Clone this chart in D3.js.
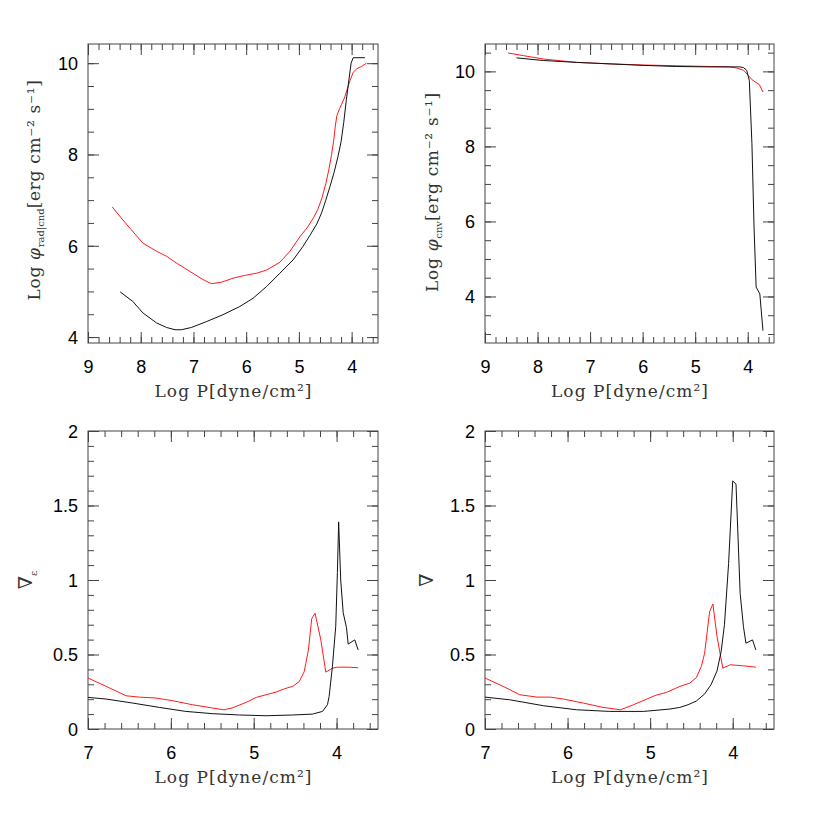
<!DOCTYPE html>
<html>
<head>
<meta charset="utf-8">
<script src="https://cdn.jsdelivr.net/npm/d3@7"></script>
<style>
  body { margin: 0; background: #ffffff; }
</style>
</head>
<body>
<div id="chart"></div>
<script>
// values, pairs are [log P, value]
const radBlack = [[8.39,4.99],[8.15,4.78],[7.96,4.53],[7.70,4.31],[7.51,4.21],[7.35,4.16],[7.23,4.16],[7.04,4.21],[6.75,4.34],[6.44,4.49],[6.12,4.67],[5.87,4.85],[5.61,5.11],[5.36,5.40],[5.11,5.69],[4.92,5.99],[4.79,6.23],[4.66,6.48],[4.57,6.72],[4.49,7.00],[4.41,7.30],[4.33,7.62],[4.26,7.95],[4.20,8.28],[4.15,8.70],[4.10,9.20],[4.05,9.65],[4.01,10.0],[3.97,10.12],[3.75,10.12]]
const radRed = [[8.54,6.85],[8.37,6.61],[8.18,6.35],[7.96,6.06],[7.70,5.88],[7.51,5.77],[7.32,5.62],[7.07,5.44],[6.82,5.26],[6.66,5.17],[6.47,5.20],[6.25,5.29],[6.03,5.35],[5.80,5.40],[5.61,5.47],[5.36,5.64],[5.17,5.88],[4.98,6.20],[4.84,6.40],[4.72,6.62],[4.64,6.80],[4.56,7.06],[4.49,7.36],[4.43,7.68],[4.38,8.00],[4.34,8.31],[4.31,8.62],[4.28,8.85],[4.23,9.00],[4.19,9.10],[4.13,9.26],[4.07,9.48],[4.03,9.62],[3.97,9.80],[3.90,9.88],[3.81,9.93],[3.72,10.0]]

const cnvBlack = [[8.40,10.36],[7.89,10.29],[7.26,10.24],[6.62,10.20],[5.99,10.16],[5.35,10.13],[4.72,10.12],[4.15,10.12],[4.08,10.10],[4.02,10.03],[3.97,9.76],[3.92,8.07],[3.88,5.85],[3.84,4.25],[3.77,4.07],[3.71,3.09]]
const cnvRed = [[8.56,10.49],[8.27,10.42],[7.89,10.33],[7.26,10.24],[6.62,10.20],[5.99,10.17],[5.35,10.15],[4.72,10.13],[4.34,10.12],[4.21,10.09],[4.08,10.03],[3.99,9.89],[3.92,9.78],[3.86,9.72],[3.78,9.65],[3.71,9.45]]

const gradEBlack = [[7.0,0.212],[6.78,0.201],[6.46,0.174],[6.14,0.145],[5.82,0.118],[5.50,0.103],[5.17,0.094],[4.85,0.089],[4.53,0.094],[4.29,0.10],[4.17,0.118],[4.11,0.163],[4.09,0.218],[4.05,0.42],[4.01,0.69],[3.99,1.05],[3.975,1.39],[3.95,1.0],[3.92,0.78],[3.88,0.68],[3.86,0.57],[3.78,0.598],[3.74,0.531]]
const gradERed = [[7.0,0.342],[6.78,0.286],[6.54,0.223],[6.38,0.214],[6.18,0.208],[5.98,0.19],[5.74,0.163],[5.50,0.141],[5.36,0.129],[5.26,0.141],[5.09,0.179],[4.97,0.212],[4.85,0.23],[4.73,0.248],[4.63,0.27],[4.53,0.286],[4.45,0.319],[4.39,0.386],[4.34,0.53],[4.30,0.74],[4.26,0.777],[4.19,0.598],[4.13,0.382],[4.05,0.408],[3.99,0.415],[3.85,0.415],[3.74,0.411]]

const gradBlack = [[7.0,0.214],[6.70,0.196],[6.29,0.156],[5.89,0.129],[5.49,0.118],[5.08,0.118],[4.76,0.134],[4.64,0.145],[4.54,0.163],[4.44,0.188],[4.34,0.235],[4.26,0.300],[4.19,0.39],[4.14,0.52],[4.10,0.70],[4.05,1.11],[4.00,1.665],[3.96,1.643],[3.91,0.91],[3.87,0.687],[3.84,0.576],[3.76,0.598],[3.72,0.531]]
const gradRed = [[7.0,0.342],[6.78,0.286],[6.58,0.23],[6.37,0.214],[6.21,0.214],[6.05,0.201],[5.81,0.174],[5.57,0.145],[5.36,0.129],[5.20,0.163],[5.04,0.201],[4.94,0.225],[4.80,0.246],[4.64,0.286],[4.52,0.308],[4.44,0.345],[4.38,0.42],[4.34,0.509],[4.28,0.788],[4.24,0.839],[4.19,0.62],[4.12,0.408],[4.03,0.431],[3.87,0.424],[3.72,0.415]]

const topXTicks = [9, 8, 7, 6, 5, 4]
const botXTicks = [7, 6, 5, 4]
const fluxYTicks = [4, 6, 8, 10]
const gradYTicks = [0, 0.5, 1, 1.5, 2]

const w = 817, h = 817
const serif = '"DejaVu Serif", serif'
const sans = '"Liberation Sans", Arial, sans-serif'
const frameCol = '#444'

const panels = [
    { l: 88, r: 378, t: 44, b: 343, xDom: [9, 3.5], yDom: [3.87, 10.42], xt: topXTicks, yt: fluxYTicks, xm: 0.2, ym: 0.5,
      series: [radRed, radBlack], title: 'rad', tx: 40, ty: 190 },
    { l: 485, r: 774, t: 44, b: 343, xDom: [9, 3.5], yDom: [2.76, 10.73], xt: topXTicks, yt: fluxYTicks, xm: 0.2, ym: 0.5,
      series: [cnvRed, cnvBlack], title: 'cnv', tx: 438, ty: 192 },
    { l: 88, r: 378, t: 431, b: 729, xDom: [7, 3.5], yDom: [0, 2], xt: botXTicks, yt: gradYTicks, xm: 0.2, ym: 0.1,
      series: [gradERed, gradEBlack], title: 'grade', tx: 32, ty: 580 },
    { l: 485, r: 774, t: 431, b: 729, xDom: [7, 3.5], yDom: [0, 2], xt: botXTicks, yt: gradYTicks, xm: 0.2, ym: 0.1,
      series: [gradRed, gradBlack], title: 'grad', tx: 433, ty: 580 }
]

const svg = d3.select('#chart')
    .append('svg')
    .attr('width', w)
    .attr('height', h)
    .style('background-color', '#ffffff')

function minorTicks(dom, step) {
    const lo = Math.min(dom[0], dom[1]), hi = Math.max(dom[0], dom[1])
    const out = []
    for (let v = Math.ceil(lo / step - 1e-6) * step; v <= hi + 1e-6; v += step) out.push(+v.toFixed(3))
    return out
}

function styleAxis(g) {
    g.select('.domain').remove()
    g.selectAll('line').attr('stroke', frameCol)
}

panels.forEach(p => {
    const x = d3.scaleLinear().domain(p.xDom).range([p.l, p.r])
    const y = d3.scaleLinear().domain(p.yDom).range([p.b, p.t])
    const pw = p.r - p.l, ph = p.b - p.t
    const g = svg.append('g')

    // minor ticks on all four sides
    const xMin = minorTicks(p.xDom, p.xm), yMin = minorTicks(p.yDom, p.ym)
    g.append('g').attr('transform', `translate(0,${p.b})`)
        .call(d3.axisBottom(x).tickValues(xMin).tickSize(-6).tickFormat('')).call(styleAxis)
    g.append('g').attr('transform', `translate(0,${p.t})`)
        .call(d3.axisTop(x).tickValues(xMin).tickSize(-6).tickFormat('')).call(styleAxis)
    g.append('g').attr('transform', `translate(${p.l},0)`)
        .call(d3.axisLeft(y).tickValues(yMin).tickSize(-6).tickFormat('')).call(styleAxis)
    g.append('g').attr('transform', `translate(${p.r},0)`)
        .call(d3.axisRight(y).tickValues(yMin).tickSize(-6).tickFormat('')).call(styleAxis)

    // major ticks + labels
    const xb = g.append('g').attr('transform', `translate(0,${p.b})`)
        .call(d3.axisBottom(x).tickValues(p.xt).tickSize(-11).tickFormat(d => String(d))).call(styleAxis)
    xb.selectAll('text').attr('y', 29.5).attr('dy', null)
        .style('font-family', sans).style('font-size', '18px').attr('fill', '#000')
    g.append('g').attr('transform', `translate(0,${p.t})`)
        .call(d3.axisTop(x).tickValues(p.xt).tickSize(-11).tickFormat('')).call(styleAxis)
    const yl = g.append('g').attr('transform', `translate(${p.l},0)`)
        .call(d3.axisLeft(y).tickValues(p.yt).tickSize(-11).tickPadding(10).tickFormat(d => String(d))).call(styleAxis)
    yl.selectAll('text').attr('dy', '0.36em')
        .style('font-family', sans).style('font-size', '18px').attr('fill', '#000')
    g.append('g').attr('transform', `translate(${p.r},0)`)
        .call(d3.axisRight(y).tickValues(p.yt).tickSize(-11).tickFormat('')).call(styleAxis)

    // frame
    g.append('rect')
        .attr('x', p.l).attr('y', p.t).attr('width', pw).attr('height', ph)
        .attr('fill', 'none').attr('stroke', frameCol).attr('stroke-width', 1)

    // curves
    const line = d3.line().x(d => x(d[0])).y(d => y(d[1]))
    const cols = ['#ff1a1a', '#111']
    p.series.forEach((s, i) => {
        g.append('path').datum(s)
            .attr('d', line)
            .attr('fill', 'none')
            .attr('stroke', cols[i])
            .attr('stroke-width', 1)
    })

    // x title
    g.append('text')
        .attr('x', (p.l + p.r) / 2)
        .attr('y', p.b + 54)
        .attr('textLength', 157)
        .attr('lengthAdjust', 'spacing')
        .style('text-anchor', 'middle')
        .style('font-family', serif)
        .style('font-size', '17px')
        .attr('fill', '#333')
        .text('Log P[dyne/cm²]')

    // y title
    const yt = g.append('text')
        .attr('transform', `translate(${p.tx},${p.ty}) rotate(-90)`)
        .style('text-anchor', 'middle')
        .style('font-family', serif)
        .style('font-size', '17px')
        .attr('fill', '#333')
    if (p.title === 'rad' || p.title === 'cnv') {
        yt.style('letter-spacing', '0.7px')
        yt.append('tspan').text('Log ')
        yt.append('tspan').style('font-style', 'italic').text('φ')
        yt.append('tspan').attr('dy', 4).style('font-size', '10px').style('letter-spacing', '0px')
            .text(p.title === 'rad' ? 'rad|cnd' : 'cnv')
        yt.append('tspan').attr('dy', -4).text('[erg cm⁻² s⁻¹]')
    } else {
        yt.style('font-size', '19px')
        yt.append('tspan').text('∇')
        if (p.title === 'grade')
            yt.append('tspan').attr('dy', 5).style('font-size', '10px').text('ε')
    }
})
</script>
</body>
</html>
